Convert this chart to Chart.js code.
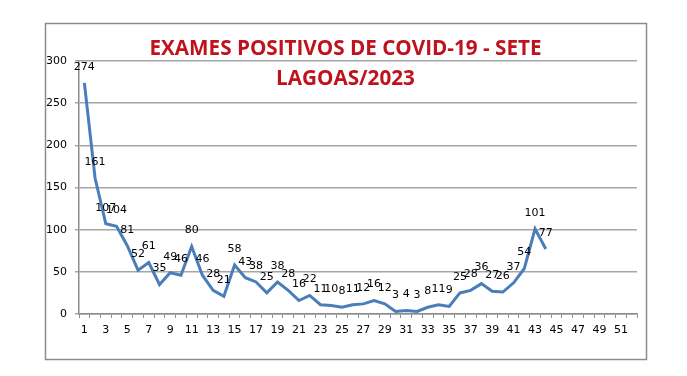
<!DOCTYPE html>
<html>
<head>
<meta charset="utf-8">
<script src="https://cdn.jsdelivr.net/npm/chart.js@4.4.1/dist/chart.umd.min.js"></script>
<style>
  html, body { margin: 0; padding: 0; background: #fff; }
  #wrap { width: 687px; height: 376px; position: relative; }
</style>
</head>
<body>
<div id="wrap"><canvas id="covidChart" width="687" height="376"></canvas></div>
<script>
const weekLabels = ['1', '2', '3', '4', '5', '6', '7', '8', '9', '10',
    '11', '12', '13', '14', '15', '16', '17', '18', '19', '20',
    '21', '22', '23', '24', '25', '26', '27', '28', '29', '30',
    '31', '32', '33', '34', '35', '36', '37', '38', '39', '40',
    '41', '42', '43', '44', '45', '46', '47', '48', '49', '50',
    '51', '52'];
const positiveExams = [274, 161, 107, 104, 81, 52, 61, 35, 49, 46,
    80, 46, 28, 21, 58, 43, 38, 25, 38, 28,
    16, 22, 11, 10, 8, 11, 12, 16, 12, 3,
    4, 3, 8, 11, 9, 25, 28, 36, 27, 26,
    37, 54, 101, 77];
const titleLines = ['EXAMES POSITIVOS DE COVID-19 - SETE', 'LAGOAS/2023'];

const tickFont = { family: '"DejaVu Sans", sans-serif', size: 11 };

// outer grey frame like the Excel chart area
const framePlugin = {
    id: 'frame',
    beforeDraw(chart) {
        const ctx = chart.ctx;
        ctx.save();
        ctx.fillStyle = '#fff';
        ctx.fillRect(0, 0, chart.width, chart.height);
        ctx.strokeStyle = '#8c8c8c';
        ctx.lineWidth = 1.5;
        ctx.strokeRect(45.5, 23.5, 601, 336);
        ctx.restore();
    }
};

// two-line title sits over the plot area, so draw it by hand
const titlePlugin = {
    id: 'overTitle',
    afterDraw(chart) {
        const ctx = chart.ctx;
        ctx.save();
        ctx.font = 'bold 22px "Open Sans", sans-serif';
        ctx.fillStyle = '#c0121c';
        ctx.textAlign = 'center';
        ctx.textBaseline = 'middle';
        const w = ctx.measureText(titleLines[0]).width;
        const sx = 392 / w;
        ctx.translate(345.5, 0);
        ctx.scale(sx, 1);
        ctx.fillText(titleLines[0], 0, 49);
        ctx.fillText(titleLines[1], 0, 79);
        ctx.restore();
    }
};

// value above every point
const valueLabelPlugin = {
    id: 'valueLabels',
    afterDatasetsDraw(chart) {
        const ctx = chart.ctx;
        const meta = chart.getDatasetMeta(0);
        ctx.save();
        ctx.font = '11px "DejaVu Sans", sans-serif';
        ctx.fillStyle = '#000';
        ctx.textAlign = 'center';
        ctx.textBaseline = 'middle';
        meta.data.forEach((pt, i) => {
            ctx.fillText(String(positiveExams[i]), pt.x, pt.y - 16);
        });
        ctx.restore();
    }
};

new Chart(document.getElementById('covidChart').getContext('2d'), {
    type: 'line',
    data: {
        labels: weekLabels,
        datasets: [{
            data: positiveExams,
            borderColor: '#4a7ebb',
            borderWidth: 3,
            pointRadius: 0,
            tension: 0,
            fill: false
        }]
    },
    options: {
        responsive: false,
        animation: false,
        layout: { padding: { left: 46, right: 50, top: 61, bottom: 0 } },
        plugins: {
            legend: { display: false },
            tooltip: { enabled: false }
        },
        scales: {
            x: {
                offset: true,
                grid: {
                    offset: true,
                    drawOnChartArea: false,
                    drawTicks: true,
                    tickLength: 4,
                    color: '#8c8c8c'
                },
                border: { color: '#8c8c8c', width: 1.5 },
                ticks: {
                    autoSkip: false,
                    maxRotation: 0,
                    color: '#000',
                    font: tickFont,
                    padding: 6,
                    callback: function(val, idx) {
                        return idx % 2 === 0 ? this.getLabelForValue(val) : '';
                    }
                },
                afterFit(scale) { scale.height = 62; }
            },
            y: {
                min: 0,
                max: 300,
                ticks: { stepSize: 50, color: '#000', font: tickFont, padding: 8 },
                grid: { color: '#a6a6a6', lineWidth: 1.5, tickLength: 4 },
                border: { color: '#8c8c8c', width: 1.5 },
                afterFit(scale) { scale.width = 33; }
            }
        }
    },
    plugins: [framePlugin, titlePlugin, valueLabelPlugin]
});
</script>
</body>
</html>
